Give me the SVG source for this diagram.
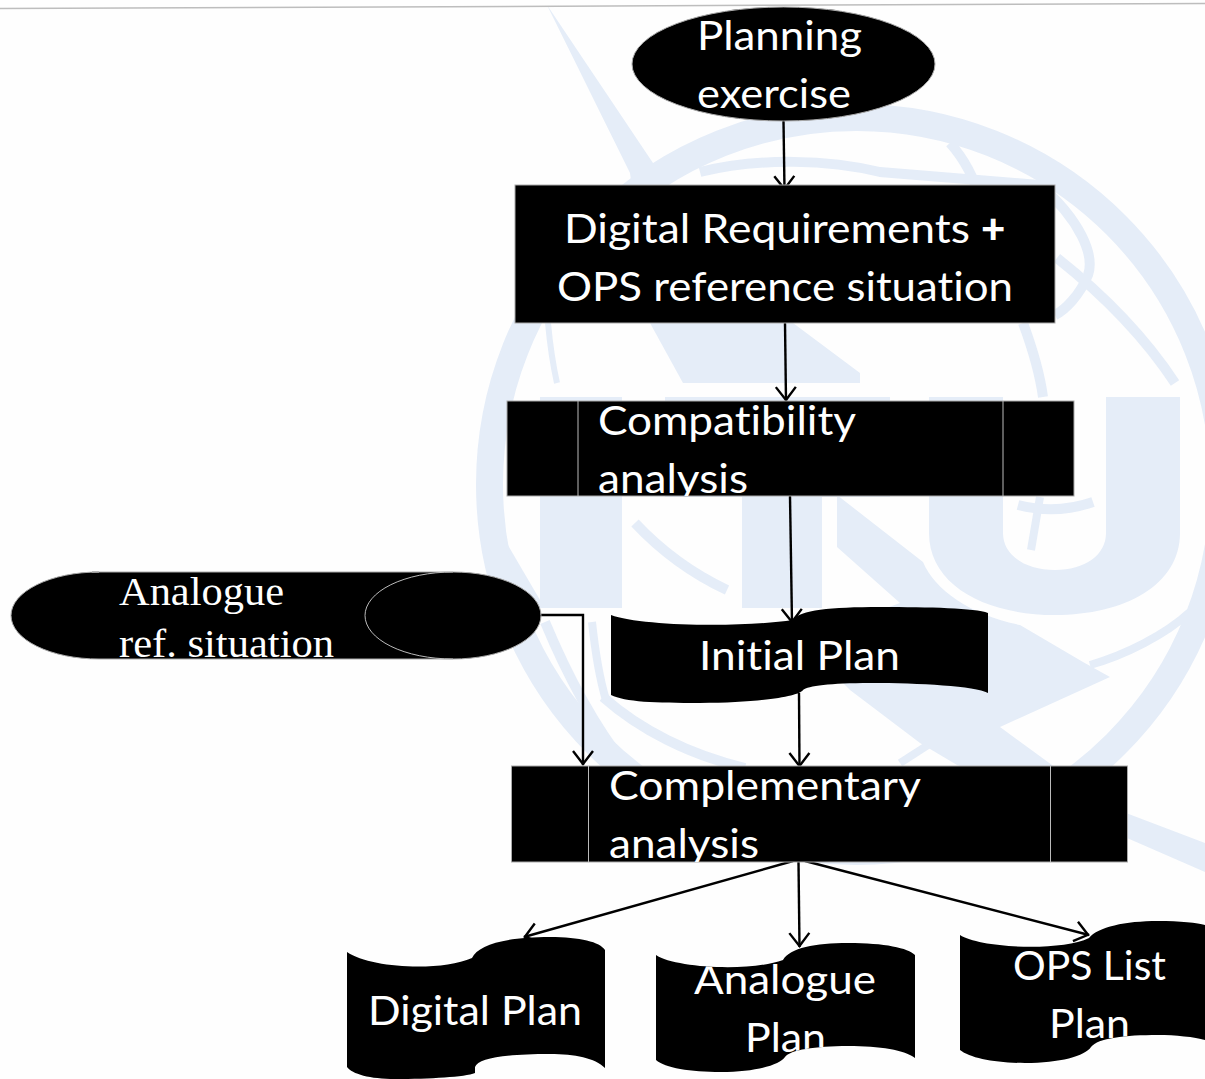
<svg xmlns="http://www.w3.org/2000/svg" width="1205" height="1079" viewBox="0 0 1205 1079">
<style>
.wm{fill:#E5EDF8;stroke:none}
.ws{fill:none;stroke:#E5EDF8}
.shape{fill:#000;stroke:#aaa;stroke-width:1}
.blob{fill:#000;stroke:none}
.div{fill:none;stroke:#bbb;stroke-width:1}
.t{font-family:Lato,"Open Sans",sans-serif;font-size:40px;fill:#fff;font-variant-ligatures:none}
.s{font-family:"Liberation Serif",serif;font-size:39px;fill:#fff}
.c{fill:none;stroke:#000;stroke-width:2.4}
</style>
<defs>
<marker id="v" markerUnits="userSpaceOnUse" markerWidth="30" markerHeight="30" refX="16" refY="15" orient="auto" overflow="visible"><path d="M2,5 L15,15 L2,25" fill="none" stroke="#000" stroke-width="2.4"/></marker>
<path id="pInit" d="M611,615 C640,626 740,628 793,620 C800,610 830,607 880,607 C930,607 975,608 988,613 L988,693 C975,686 920,683 870,683 C830,683 808,686 803,690 C800,696 760,703 700,703 C655,703 625,702 611,695 Z"/>
<path id="pDig" d="M347,952 C370,968 440,972 472,958 C478,945 505,937 550,937 C580,937 600,942 605,950 L605,1068 C595,1058 575,1054 550,1054 C505,1054 478,1058 475,1067 L475,1073 C465,1077 430,1079 395,1079 C370,1079 352,1074 347,1067 Z"/>
<path id="pAna" d="M656,955 C675,968 750,972 783,960 C790,948 815,943 848,943 C885,943 908,948 915,955 L915,1058 C905,1050 880,1046 848,1046 C815,1046 790,1050 785,1057 C780,1065 755,1072 721,1072 C690,1072 665,1068 656,1060 Z"/>
<path id="pOps" d="M960,935 C980,948 1060,952 1089,938 C1098,927 1125,921 1158,921 C1180,921 1198,923 1205,925 L1205,1040 C1195,1037 1175,1035 1158,1035 C1125,1035 1098,1038 1091,1047 C1085,1056 1060,1063 1025,1063 C995,1063 970,1058 960,1050 Z"/>
<path id="pRef" d="M92,572 H453 A88,43.5 0 0 1 453,659 H99 A88,43.5 0 0 1 99,572 Z"/>
<clipPath id="cAna"><use href="#pAna"/></clipPath>
<clipPath id="cOps"><use href="#pOps"/></clipPath>
<clipPath id="cRef"><use href="#pRef"/></clipPath>
<clipPath id="cCompat"><rect x="507" y="401" width="567" height="95"/></clipPath>
<clipPath id="cComp"><rect x="511" y="766" width="617" height="96"/></clipPath>
</defs>
<rect width="1205" height="1079" fill="#fefefe"/>
<g id="watermark">
<circle class="ws" cx="856.5" cy="484.5" r="367" stroke-width="27"/>
<path class="wm" d="M547,5 L653,163 L665,185 L793,323 L860,373 V383 H683 L650,323 L630,173 Z"/>
<path class="wm" d="M505,540 L540,600 V620 L518,600 Z"/>
<path class="wm" d="M540,397H622V608H540Z"/>
<path class="wm" d="M665,397H890V497H822V608H742V497H665Z"/>
<path class="wm" d="M929,397H1003V533C1003,555 1025,570 1055,570C1085,570 1106,555 1106,533V397H1180V533C1180,585 1125,615 1055,615C985,615 929,585 929,533Z"/>
<path class="wm" d="M837,495 L923,562 C935,590 970,615 1020,625 L1083,662 L1110,677 L1000,727 L1052,765 L1126,813 L1205,843 V872 L1127,838 L1060,800 L957,765 L920,743 L850,690 L800,640 L900,603 L837,547 Z"/>
<path class="ws" d="M1018,505 C1045,512 1070,510 1093,502" stroke-width="10"/>
<path class="ws" d="M1040,497 L1031,550" stroke-width="8"/>
<path class="ws" d="M1023,323 C1033,350 1040,375 1043,397" stroke-width="10"/>
<path class="ws" d="M950,143 C965,160 975,180 980,200" stroke-width="10"/>
<path class="ws" d="M700,172 C760,157 830,160 880,172 L1040,185 C1080,220 1095,255 1088,275 C1080,295 1065,310 1055,315" stroke-width="10"/>
<path class="ws" d="M1057,258 C1110,300 1150,345 1175,383" stroke-width="10"/>
<path class="ws" d="M548,323 C550,345 553,365 557,383" stroke-width="6"/>
<path class="ws" d="M635,523 C665,555 695,575 727,590" stroke-width="10"/>
<path class="ws" d="M1190,612 C1165,635 1125,655 1090,665" stroke-width="8"/>
<path class="ws" d="M545,622 C565,670 590,720 625,765" stroke-width="10"/>
<path class="ws" d="M592,622 C595,650 600,680 606,700" stroke-width="8"/>
<path class="ws" d="M603,697 C640,730 690,755 745,768" stroke-width="10"/>
<path class="ws" d="M900,763 L928,745" stroke-width="8"/>
</g>
<g id="top-rule"><line x1="0" y1="8.5" x2="1205" y2="3.5" stroke="#bdbdbd" stroke-width="1.5"/></g>
<g id="connectors">
<line class="c" x1="783.5" y1="121" x2="784.5" y2="190" marker-end="url(#v)"/>
<line class="c" x1="785" y1="323" x2="786" y2="401" marker-end="url(#v)"/>
<line class="c" x1="790" y1="496" x2="792" y2="623" marker-end="url(#v)"/>
<path class="c" d="M541,615 H583 V765" marker-end="url(#v)"/>
<line class="c" x1="799" y1="693" x2="799.5" y2="767" marker-end="url(#v)"/>
<line class="c" x1="798.5" y1="862" x2="799.5" y2="947" marker-end="url(#v)"/>
<line class="c" x1="793" y1="861" x2="524" y2="937" marker-end="url(#v)"/>
<line class="c" x1="805" y1="861" x2="1089" y2="935" marker-end="url(#v)"/>
</g>
<g id="planning-exercise">
<ellipse cx="783.5" cy="64" rx="151.5" ry="57" class="shape"/>
<text class="t" x="697" y="50" textLength="165" lengthAdjust="spacingAndGlyphs">Planning</text>
<text class="t" x="697" y="108" textLength="154" lengthAdjust="spacingAndGlyphs">exercise</text>
</g>
<g id="digital-requirements">
<rect x="515" y="185" width="540" height="138" class="shape"/>
<text class="t" x="564" y="243" textLength="406" lengthAdjust="spacingAndGlyphs">Digital Requirements</text>
<text class="t" x="981" y="243" style="font-weight:900;font-size:42px">+</text>
<text class="t" x="557" y="301" textLength="456" lengthAdjust="spacingAndGlyphs">OPS reference situation</text>
</g>
<g id="compatibility-analysis">
<rect x="507" y="401" width="567" height="95" class="shape"/>
<path class="div" d="M578,401V496M1003,401V496"/>
<g clip-path="url(#cCompat)">
<text class="t" x="598" y="435" textLength="258" lengthAdjust="spacingAndGlyphs">Compatibility</text>
<text class="t" x="598" y="493" textLength="150" lengthAdjust="spacingAndGlyphs">analysis</text>
</g>
</g>
<g id="analogue-ref-situation">
<use href="#pRef" class="shape"/>
<path class="div" d="M453,572 A88,43.5 0 0 0 453,659"/>
<g clip-path="url(#cRef)">
<text class="s" x="119" y="605" textLength="165" lengthAdjust="spacingAndGlyphs">Analogue</text>
<text class="s" x="119" y="657" textLength="215" lengthAdjust="spacingAndGlyphs">ref. situation</text>
</g>
</g>
<g id="initial-plan">
<use href="#pInit" class="blob"/>
<text class="t" x="699" y="670" textLength="201" lengthAdjust="spacingAndGlyphs">Initial Plan</text>
</g>
<g id="complementary-analysis">
<rect x="511.5" y="766" width="616" height="96" class="shape"/>
<path class="div" d="M588.5,766V862M1050.5,766V862"/>
<g clip-path="url(#cComp)">
<text class="t" x="609" y="800" textLength="312" lengthAdjust="spacingAndGlyphs">Complementary</text>
<text class="t" x="609" y="858" textLength="150" lengthAdjust="spacingAndGlyphs">analysis</text>
</g>
</g>
<g id="digital-plan">
<use href="#pDig" class="blob"/>
<text class="t" x="368" y="1025" textLength="214" lengthAdjust="spacingAndGlyphs">Digital Plan</text>
</g>
<g id="analogue-plan">
<use href="#pAna" class="blob"/>
<g clip-path="url(#cAna)">
<text class="t" x="694" y="994" textLength="182" lengthAdjust="spacingAndGlyphs">Analogue</text>
<text class="t" x="745" y="1052" textLength="81" lengthAdjust="spacingAndGlyphs">Plan</text>
</g>
</g>
<g id="ops-list-plan">
<use href="#pOps" class="blob"/>
<g clip-path="url(#cOps)">
<text class="t" x="1013" y="980" textLength="153" lengthAdjust="spacingAndGlyphs">OPS List</text>
<text class="t" x="1049" y="1038" textLength="81" lengthAdjust="spacingAndGlyphs">Plan</text>
</g>
</g>
</svg>
